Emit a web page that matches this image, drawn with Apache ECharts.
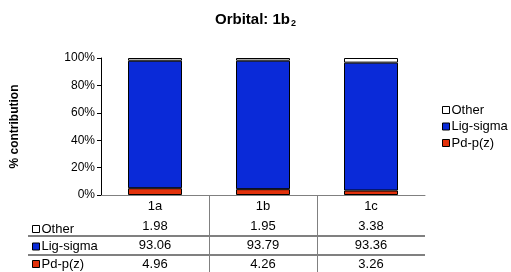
<!DOCTYPE html>
<html>
<head>
<meta charset="utf-8">
<script src="https://cdn.jsdelivr.net/npm/echarts@6/dist/echarts.min.js"></script>
<style>
  html, body { margin: 0; padding: 0; background: #fff; }
  #chart { width: 511px; height: 272px; }
</style>
</head>
<body>
<div id="chart"></div>
<script>
// ─── data ───
const categories = ['1a', '1b', '1c'];
const pdPz = [4.96, 4.26, 3.26];
const ligSigma = [93.06, 93.79, 93.36];
const other = [1.98, 1.95, 3.38];
const yTicks = [0, 20, 40, 60, 80, 100];

const FONT = "'Liberation Sans', Arial, sans-serif";
const TEXT = '#000';
const BLUE = '#0a2ad8';
const RED = '#e2310b';
const LINE = '#808080';

const chart = echarts.init(document.getElementById('chart'), null, { renderer: 'canvas' });

const legendData = [
  { name: 'Other', itemStyle: { color: '#fff', borderColor: '#000', borderWidth: 1 } },
  { name: 'Lig-sigma', itemStyle: { color: BLUE, borderColor: '#000', borderWidth: 1 } },
  { name: 'Pd-p(z)', itemStyle: { color: RED, borderColor: '#000', borderWidth: 1 } },
];

const legendCommon = {
  orient: 'vertical',
  icon: 'rect',
  itemWidth: 7,
  itemHeight: 7,
  height: 80,
  selectedMode: false,
  textStyle: { fontFamily: FONT, fontSize: 13, color: TEXT, padding: [0, 0, 0, -3] },
  data: legendData,
};

const barStyle = (color) => ({ color, borderColor: '#000', borderWidth: 1 });

chart.setOption({
  animation: false,
  backgroundColor: '#fff',
  textStyle: { fontFamily: FONT },
  title: {
    text: 'Orbital: 1b{sub|2}',
    left: 'center',
    top: 7,
    textStyle: {
      fontFamily: FONT, fontSize: 15, fontWeight: 'bold', color: TEXT,
      rich: { sub: { fontFamily: FONT, fontSize: 9, fontWeight: 'bold', color: TEXT, verticalAlign: 'bottom', padding: [7, 0, 0, 1] } },
    },
  },
  legend: [
    { ...legendCommon, left: 437, top: 98.5, itemGap: 3.5 },
    { ...legendCommon, left: 27, top: 217.5, itemGap: 4.5 },
  ],
  grid: { left: 101, right: 86, top: 58, bottom: 77 },
  xAxis: {
    type: 'category',
    data: categories,
    axisLine: { lineStyle: { color: LINE, width: 1 } },
    axisTick: { show: false },
    axisLabel: {
      margin: 0,
      fontFamily: FONT, fontSize: 13, color: TEXT,
      formatter: (v, i) => `{c|${v}}\n{v|${other[i].toFixed(2)}}\n{v|${ligSigma[i].toFixed(2)}}\n{v|${pdPz[i].toFixed(2)}}`,
      rich: {
        c: { fontFamily: FONT, fontSize: 13, color: TEXT, lineHeight: 22 },
        v: { fontFamily: FONT, fontSize: 13, color: TEXT, lineHeight: 19 },
      },
    },
  },
  yAxis: {
    type: 'value',
    min: yTicks[0],
    max: yTicks[yTicks.length - 1],
    interval: yTicks[1] - yTicks[0],
    name: '% contribution',
    nameLocation: 'middle',
    nameRotate: 90,
    nameGap: 80,
    nameTextStyle: { fontFamily: FONT, fontSize: 12, fontWeight: 'bold', color: TEXT },
    axisLine: { show: true, lineStyle: { color: '#000', width: 1 } },
    axisTick: { show: true, inside: false, length: 4, lineStyle: { color: '#000' } },
    axisLabel: { fontFamily: FONT, fontSize: 12, color: TEXT, margin: 6, formatter: '{value}%' },
    splitLine: { show: false },
  },
  series: [
    { name: 'Pd-p(z)', type: 'bar', stack: 'total', barWidth: '50%', data: pdPz, itemStyle: barStyle(RED) },
    { name: 'Lig-sigma', type: 'bar', stack: 'total', barWidth: '50%', data: ligSigma, itemStyle: barStyle(BLUE) },
    { name: 'Other', type: 'bar', stack: 'total', barWidth: '50%', data: other, itemStyle: barStyle('#fff') },
  ],
});

// ─── data table grid lines ───
function drawTableLines() {
  const x0 = chart.convertToPixel({ xAxisIndex: 0 }, 0);
  const x1 = chart.convertToPixel({ xAxisIndex: 0 }, 1);
  const step = x1 - x0;
  const left = x0 - step / 2;
  const right = left + step * categories.length;
  const axisY = chart.convertToPixel({ yAxisIndex: 0 }, 0);
  const els = [];
  for (let i = 1; i < categories.length; i++) {
    const x = Math.round(left + step * i) + 0.5;
    els.push({ type: 'line', shape: { x1: x, y1: axisY, x2: x, y2: 272 }, style: { stroke: LINE, lineWidth: 1 }, silent: true });
  }
  [236, 255].forEach((y) => {
    els.push({ type: 'line', shape: { x1: 28, y1: y, x2: right, y2: y }, style: { stroke: LINE, lineWidth: 2 }, silent: true });
  });
  chart.setOption({ graphic: els });
}
drawTableLines();
</script>
</body>
</html>
